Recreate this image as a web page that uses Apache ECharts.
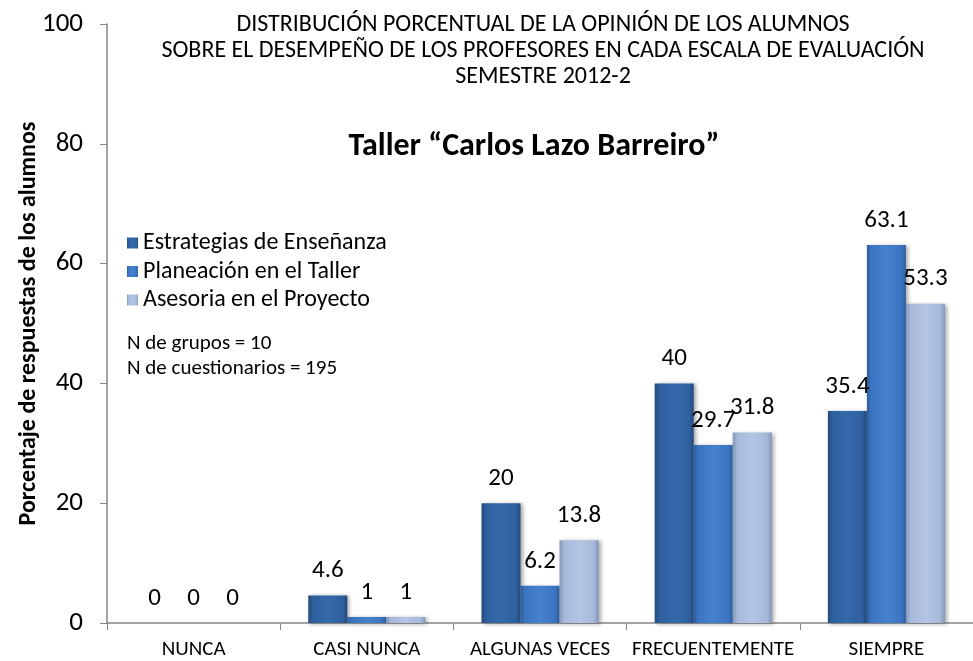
<!DOCTYPE html>
<html>
<head>
<meta charset="utf-8">
<script src="https://cdn.jsdelivr.net/npm/echarts@6/dist/echarts.min.js"></script>
<style>
html,body{margin:0;padding:0;background:#fff;overflow:hidden;}
#chart{width:973px;height:661px;}
</style>
</head>
<body>
<div id="chart"></div>
<script>
const categories = ['NUNCA', 'CASI NUNCA', 'ALGUNAS VECES', 'FRECUENTEMENTE', 'SIEMPRE'];
const seriesNames = ['Estrategias de Enseñanza', 'Planeación en el Taller', 'Asesoria en el Proyecto'];
const estrategias = [0, 4.6, 20, 40, 35.4];
const planeacion = [0, 1, 6.2, 29.7, 63.1];
const asesoria = [0, 1, 13.8, 31.8, 53.3];
const yTicks = [0, 20, 40, 60, 80, 100];
const titleLines = ['DISTRIBUCIÓN PORCENTUAL DE LA OPINIÓN DE LOS ALUMNOS', 'SOBRE EL DESEMPEÑO DE LOS PROFESORES EN CADA ESCALA DE EVALUACIÓN', 'SEMESTRE 2012-2'];
const subtitle = 'Taller “Carlos Lazo Barreiro”';
const notes = ['N de grupos = 10', 'N de cuestionarios = 195'];
const yAxisName = 'Porcentaje de respuestas de los alumnos';

const FONT = "Carlito, 'Noto Sans', sans-serif";
const baseColors = [
  ['#24497a', '#2f609e', '#3569aa'],
  ['#2d5e9f', '#3b75c2', '#4681cd'],
  ['#8196b8', '#a6b9da', '#b4c6e4']
];
function grad(c) {
  return new echarts.graphic.LinearGradient(0, 0, 1, 0, [
    {offset: 0, color: c[0]},
    {offset: 0.12, color: c[1]},
    {offset: 0.5, color: c[2]},
    {offset: 0.88, color: c[1]},
    {offset: 1, color: c[0]}
  ]);
}
const dataSets = [estrategias, planeacion, asesoria];
const chart = echarts.init(document.getElementById('chart'));
chart.setOption({
  animation: false,
  backgroundColor: '#fff',
  textStyle: {fontFamily: FONT},
  title: [
    {
      text: titleLines.join('\n'), left: 538, top: 7, textAlign: 'center',
      textStyle: {fontFamily: FONT, fontSize: 24, fontWeight: 'normal', color: '#000', lineHeight: 26}
    },
    {
      text: subtitle, left: 529, top: 126, textAlign: 'center',
      textStyle: {fontFamily: FONT, fontSize: 32, fontWeight: 'bold', color: '#000'}
    }
  ],
  legend: {
    orient: 'vertical', left: 122, top: 226, itemWidth: 11, itemHeight: 11, itemGap: 4.5,
    icon: 'rect',
    textStyle: {fontFamily: FONT, fontSize: 24, color: '#000'},
    data: seriesNames
  },
  graphic: notes.map((t, i) => ({
    type: 'text', left: 127, top: 333 + i * 25,
    style: {text: t, font: "21px " + FONT, fill: '#000'}
  })),
  grid: {left: 107, right: -7, top: 24, bottom: 38},
  xAxis: {
    type: 'category', data: categories,
    axisLine: {lineStyle: {color: '#868686', width: 1.5}},
    axisTick: {show: true, length: 7, interval: 0, lineStyle: {color: '#868686'}},
    axisLabel: {fontFamily: FONT, fontSize: 21, color: '#000', margin: 16, interval: 0, hideOverlap: false}
  },
  yAxis: {
    type: 'value', min: 0, max: 100, interval: 20,
    name: yAxisName, nameLocation: 'middle', nameGap: 66, nameMoveOverlap: false,
    nameTextStyle: {fontFamily: FONT, fontSize: 24, fontWeight: 'bold', color: '#000'},
    axisLine: {show: true, lineStyle: {color: '#868686', width: 1.5}},
    axisTick: {show: true, length: 7, lineStyle: {color: '#868686'}},
    splitLine: {show: false},
    axisLabel: {fontFamily: FONT, fontSize: 27, color: '#000', margin: 24,
      formatter: v => yTicks.includes(v) ? String(v) : ''}
  },
  series: dataSets.map((d, i) => ({
    name: seriesNames[i], type: 'bar', data: d,
    barWidth: 39, barGap: '0%',
    itemStyle: {
      color: grad(baseColors[i]),
      borderWidth: 0,
      shadowBlur: 4, shadowColor: 'rgba(0,0,0,0.35)', shadowOffsetX: 2, shadowOffsetY: 1
    },
    label: {show: true, position: 'top', distance: 12, fontFamily: FONT, fontSize: 25, color: '#000'}
  }))
});
</script>
</body>
</html>
